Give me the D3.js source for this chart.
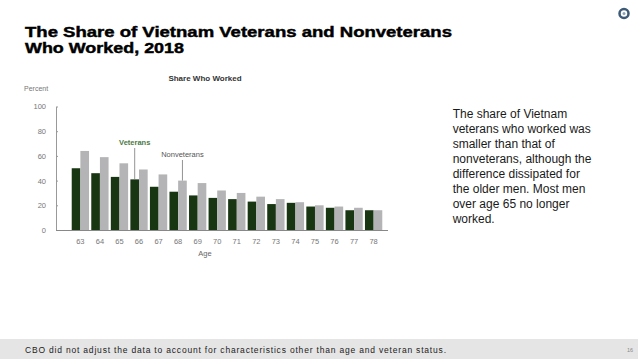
<!DOCTYPE html>
<html>
<head>
<meta charset="utf-8">
<script src="https://cdn.jsdelivr.net/npm/d3@7"></script>
<style>
  body { margin: 0; background: #fff; }
  svg { display: block; font-family: "Liberation Sans", Arial, sans-serif; }
</style>
</head>
<body>
<script>
// ages on the x axis
const ages = ["63", "64", "65", "66", "67", "68", "69", "70", "71", "72", "73", "74", "75", "76", "77", "78"];
// share who worked, percent
const veterans = [50, 46, 43, 41, 35, 31, 28, 26, 25, 23, 21, 22, 19, 18, 16, 16];
const nonveterans = [64, 59, 54, 49, 45, 40, 38, 32, 30, 27, 25, 22.5, 20, 19, 18, 16];
const yTicks = [0, 20, 40, 60, 80, 100];
const series = ["vet", "non"];

const noteLines = [
    "The share of Vietnam",
    "veterans who worked was",
    "smaller than that of",
    "nonveterans, although the",
    "difference dissipated for",
    "the older men. Most men",
    "over age 65 no longer",
    "worked."
];

const W = 638, H = 359;

const svg = d3.select('body')
    .append('svg')
    .attr('width', W)
    .attr('height', H);

// title (the original font is wider and heavier, so stretch it)
svg.append('text')
    .attr('x', 25).attr('y', 36.7)
    .attr('font-size', 15)
    .attr('font-weight', 'bold')
    .attr('fill', '#000')
    .attr('stroke', '#000')
    .attr('stroke-width', 0.45)
    .attr('textLength', 427)
    .attr('lengthAdjust', 'spacingAndGlyphs')
    .text('The Share of Vietnam Veterans and Nonveterans');
svg.append('text')
    .attr('x', 25).attr('y', 53.3)
    .attr('font-size', 15)
    .attr('font-weight', 'bold')
    .attr('fill', '#000')
    .attr('stroke', '#000')
    .attr('stroke-width', 0.45)
    .attr('textLength', 159)
    .attr('lengthAdjust', 'spacingAndGlyphs')
    .text('Who Worked, 2018');

// little logo top right
svg.append('circle').attr('cx', 624).attr('cy', 13.5).attr('r', 4.5)
    .attr('fill', 'none').attr('stroke', '#3d5a78').attr('stroke-width', 2.5);
svg.append('circle').attr('cx', 624).attr('cy', 13.5).attr('r', 1.5).attr('fill', '#8aa2b8');

// scales
const x = d3.scaleBand()
    .domain(ages)
    .range([70.6, 383.4])
    .paddingInner(0.115)
    .paddingOuter(0.0575);

const xs = d3.scaleBand()
    .domain(series)
    .range([0, x.bandwidth()]);

const y = d3.scaleLinear()
    .domain([0, 100])
    .range([230, 106.5]);

const colors = { vet: '#193613', non: '#b4b4b6' };

// chart header
svg.append('text')
    .attr('x', 205).attr('y', 81)
    .attr('text-anchor', 'middle')
    .attr('font-size', 8)
    .attr('font-weight', 'bold')
    .attr('fill', '#333')
    .text('Share Who Worked');

svg.append('text')
    .attr('x', 24).attr('y', 91)
    .attr('font-size', 7)
    .attr('fill', '#777')
    .text('Percent');

// y axis
const yAxis = svg.append('g')
    .attr('transform', 'translate(56,0)')
    .call(d3.axisRight(y).tickValues(yTicks).tickSize(2).tickSizeOuter(0));
yAxis.select('.domain').attr('stroke', '#999');
yAxis.selectAll('.tick line').attr('stroke', '#999');
yAxis.selectAll('.tick text')
    .attr('x', -10)
    .attr('text-anchor', 'end')
    .attr('font-size', 7.5)
    .attr('font-family', '"Liberation Sans", Arial, sans-serif')
    .attr('fill', '#777');

// bars
const rows = ages.map((a, i) => ({ age: a, vet: veterans[i], non: nonveterans[i] }));

const groups = svg.append('g')
    .selectAll('g')
    .data(rows)
    .enter()
    .append('g')
    .attr('transform', d => 'translate(' + x(d.age) + ',0)');

groups.selectAll('rect')
    .data(d => series.map(k => ({ key: k, value: d[k] })))
    .enter()
    .append('rect')
    .attr('x', d => xs(d.key))
    .attr('y', d => y(d.value))
    .attr('width', xs.bandwidth())
    .attr('height', d => y(0) - y(d.value))
    .attr('fill', d => colors[d.key]);

// x axis
const xAxis = svg.append('g')
    .attr('transform', 'translate(0,' + y(0) + ')')
    .call(d3.axisBottom(x).tickSize(0).tickPadding(9));
xAxis.select('.domain').attr('d', 'M56,0.5H388').attr('stroke', '#888');
xAxis.selectAll('.tick text')
    .attr('font-size', 7.5)
    .attr('font-family', '"Liberation Sans", Arial, sans-serif')
    .attr('fill', '#777');

svg.append('text')
    .attr('x', 205).attr('y', 255.5)
    .attr('text-anchor', 'middle')
    .attr('font-size', 7.5)
    .attr('fill', '#666')
    .text('Age');

// series labels with leader lines
const vetX = x('66') + xs('vet') + xs.bandwidth() / 2;
svg.append('text')
    .attr('x', vetX).attr('y', 145)
    .attr('text-anchor', 'middle')
    .attr('font-size', 7.5)
    .attr('font-weight', 'bold')
    .attr('fill', '#4d7a44')
    .text('Veterans');
svg.append('line')
    .attr('x1', vetX).attr('x2', vetX)
    .attr('y1', 148).attr('y2', y(veterans[3]))
    .attr('stroke', '#777').attr('stroke-width', 0.8);

const nonX = x('68') + xs('non') + xs.bandwidth() / 2;
svg.append('text')
    .attr('x', nonX).attr('y', 157)
    .attr('text-anchor', 'middle')
    .attr('font-size', 7.5)
    .attr('fill', '#555')
    .text('Nonveterans');
svg.append('line')
    .attr('x1', nonX).attr('x2', nonX)
    .attr('y1', 160).attr('y2', y(nonveterans[5]))
    .attr('stroke', '#777').attr('stroke-width', 0.8);

// side note
svg.append('g')
    .selectAll('text')
    .data(noteLines)
    .enter()
    .append('text')
    .attr('x', 452.7)
    .attr('y', (d, i) => 118.3 + i * 15)
    .attr('font-size', 12)
    .attr('fill', '#1a1a1a')
    .text(d => d);

// footer band
svg.append('rect')
    .attr('x', 0).attr('y', 339)
    .attr('width', W).attr('height', H - 339)
    .attr('fill', '#e5e5e5');
svg.append('text')
    .attr('x', 25).attr('y', 353)
    .attr('font-size', 8.5)
    .attr('fill', '#222')
    .attr('textLength', 421)
    .attr('lengthAdjust', 'spacing')
    .text('CBO did not adjust the data to account for characteristics other than age and veteran status.');
svg.append('text')
    .attr('x', 630).attr('y', 352)
    .attr('text-anchor', 'middle')
    .attr('font-size', 5.5)
    .attr('fill', '#888')
    .text('16');
</script>
</body>
</html>
